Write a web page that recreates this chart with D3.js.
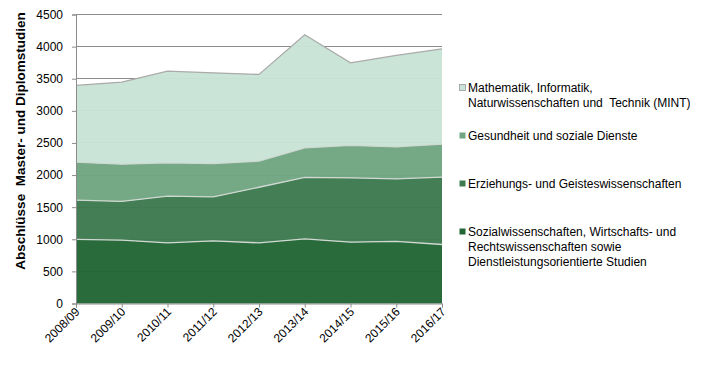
<!DOCTYPE html>
<html>
<head>
<meta charset="utf-8">
<script src="https://cdn.jsdelivr.net/npm/d3@7"></script>
<style>
  body { margin:0; background:#fff; }
  svg { font-family: "Liberation Sans", Arial, sans-serif; }
</style>
</head>
<body>
<svg id="chart" width="709" height="369"></svg>
<script>
// --- data ---
const years = ['2008/09','2009/10','2010/11','2011/12','2012/13','2013/14','2014/15','2015/16','2016/17'];
const sozial     = [997, 986, 944, 975, 944, 1006, 955, 966, 919];
const erziehung  = [612, 603, 727, 685, 866, 957, 1002, 975, 1048];
const gesundheit = [592, 581, 519, 519, 407, 461, 504, 498, 514];
const mint       = [1195, 1277, 1428, 1413, 1350, 1760, 1287, 1424, 1485];

const colors = ['#236636', '#3e7a4f', '#71a581', '#c8e4d6'];
const yTicks = [0, 500, 1000, 1500, 2000, 2500, 3000, 3500, 4000, 4500];

// table for the stack
const keys = ['s0','s1','s2','s3'];
const rows = years.map((y, i) => ({ year:y, s0:sozial[i], s1:erziehung[i], s2:gesundheit[i], s3:mint[i] }));

const svg = d3.select('#chart');
const M = { left:76, right:442, top:14.5, bottom:303.5 };

const x = d3.scalePoint().domain(years).range([M.left, M.right]);
const y = d3.scaleLinear().domain([0, 4500]).range([M.bottom, M.top]);

// gridlines
svg.append('g').selectAll('line')
  .data(yTicks.filter(t => t > 0))
  .join('line')
  .attr('x1', M.left).attr('x2', M.right)
  .attr('y1', d => y(d)).attr('y2', d => y(d))
  .attr('stroke', '#8c8c8c').attr('stroke-width', 1).attr('shape-rendering','crispEdges');

// stacked areas
const stacked = d3.stack().keys(keys)(rows);
const area = d3.area()
  .x(d => x(d.data.year))
  .y0(d => y(d[0]))
  .y1(d => y(d[1]));
const line = d3.line()
  .x(d => x(d.data.year))
  .y(d => y(d[1]));

svg.append('g').selectAll('path')
  .data(stacked)
  .join('path')
  .attr('d', area)
  .attr('fill', (d, i) => colors[i])
  .attr('fill-opacity', 0.97);

svg.append('g').selectAll('path')
  .data(stacked)
  .join('path')
  .attr('d', line)
  .attr('fill', 'none')
  .attr('stroke', (d, i) => i === 3 ? '#aaaaaa' : '#d0d8d2')
  .attr('stroke-width', 1.3);

// y axis
const yAxis = svg.append('g')
  .attr('transform', `translate(${M.left},0)`)
  .call(d3.axisLeft(y).tickValues(yTicks).tickFormat(d3.format('d')).tickSize(4).tickPadding(9));
yAxis.select('.domain').attr('stroke', '#8c8c8c');
yAxis.selectAll('.tick line').attr('stroke', '#8c8c8c');
yAxis.selectAll('.tick text').attr('font-size', 12).attr('fill', '#000')
  .attr('font-family', '"Liberation Sans", Arial, sans-serif');

// x axis
const xAxis = svg.append('g')
  .attr('transform', `translate(0,${M.bottom})`)
  .call(d3.axisBottom(x).tickSize(4).tickPadding(3));
xAxis.select('.domain').attr('stroke', '#8c8c8c');
xAxis.selectAll('.tick line').attr('stroke', '#8c8c8c');
xAxis.selectAll('.tick text')
  .attr('font-size', 12).attr('fill', '#000')
  .attr('font-family', '"Liberation Sans", Arial, sans-serif')
  .attr('text-anchor', 'end')
  .attr('dy', null).attr('y', 0)
  .attr('transform', 'translate(4,9) rotate(-45)');

// y axis title
svg.append('text')
  .attr('transform', `translate(25,141) rotate(-90)`)
  .attr('text-anchor', 'middle')
  .attr('font-size', 13.5).attr('font-weight', 'bold')
  .style('white-space', 'pre')
  .text('Abschlüsse  Master- und Diplomstudien');

// legend (top to bottom: MINT first)
const legendItems = [
  { i:3, lines:['Mathematik, Informatik,', 'Naturwissenschaften und  Technik (MINT)'], y:88 },
  { i:2, lines:['Gesundheit und soziale Dienste'], y:136 },
  { i:1, lines:['Erziehungs- und Geisteswissenschaften'], y:184 },
  { i:0, lines:['Sozialwissenschaften, Wirtschafts- und', 'Rechtswissenschaften sowie', 'Dienstleistungsorientierte Studien'], y:232 }
];
const lg = svg.append('g').selectAll('g')
  .data(legendItems)
  .join('g')
  .attr('transform', d => `translate(460,${d.y})`);
lg.append('rect')
  .attr('x', -0.5).attr('y', -3.5).attr('width', 6).attr('height', 6)
  .attr('fill', d => colors[d.i])
  .attr('stroke', d => d.i === 3 ? '#999' : 'none').attr('stroke-width', 0.8);
lg.append('text')
  .attr('x', 8).attr('y', 0)
  .attr('font-size', 12).attr('fill', '#000')
  .style('white-space', 'pre')
  .selectAll('tspan')
  .data(d => d.lines)
  .join('tspan')
  .attr('x', 8)
  .attr('dy', (d, k) => k === 0 ? '0.35em' : 15)
  .text(d => d);
</script>
</body>
</html>
